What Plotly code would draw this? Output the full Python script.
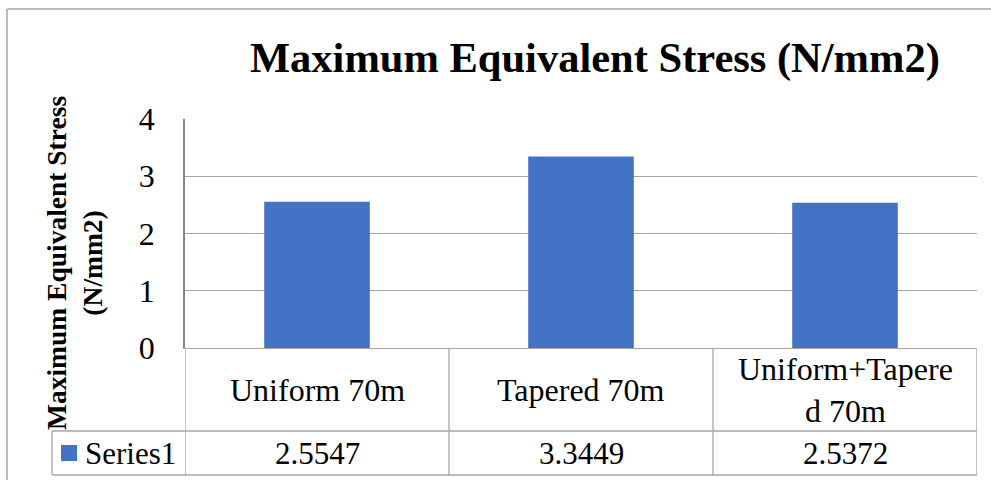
import plotly.graph_objects as go

# ---- data ----
categories = ["Uniform 70m", "Tapered 70m", "Uniform+Tapered 70m"]
table_labels = ["Uniform 70m", "Tapered 70m", "Uniform+Tapere<br>d 70m"]
values = [2.5547, 3.3449, 2.5372]
value_labels = ["2.5547", "3.3449", "2.5372"]
series_name = "Series1"
y_ticks = [0, 1, 2, 3, 4]
title_text = "Maximum Equivalent Stress (N/mm2)"
y_title = "Maximum Equivalent Stress<br>(N/mm2)"

W, H = 991, 480
BAR = "#4472C4"
GRID = "#A6A6A6"
FONT = "Liberation Serif"

def px(x):
    return x / W

def py(y):
    return 1 - y / H

x0, x1 = 185, 977
y_top, y_axis, y_row, y_bot = 119, 348, 431, 475

fig = go.Figure()
fig.add_trace(go.Bar(x=list(range(len(categories))), y=values, marker_color=BAR,
                     marker_line_width=0, name=series_name, showlegend=False,
                     hovertext=categories))

shapes = []
n = len(categories)
for i in range(n + 1):
    shapes.append(dict(type="line", xref="x", yref="paper", x0=i - 0.5, x1=i - 0.5,
                       y0=py(y_bot), y1=py(y_axis), line=dict(color=GRID, width=1.3)))
for yy in (y_row, y_bot):
    shapes.append(dict(type="line", xref="paper", yref="paper", x0=px(52), x1=px(x1),
                       y0=py(yy), y1=py(yy), line=dict(color=GRID, width=1.3)))
shapes.append(dict(type="line", xref="paper", yref="paper", x0=px(52), x1=px(52),
                   y0=py(y_bot), y1=py(y_row), line=dict(color=GRID, width=1.3)))
shapes.append(dict(type="rect", xref="paper", yref="paper", x0=px(61), x1=px(77),
                   y0=py(461), y1=py(445), fillcolor=BAR, line=dict(width=0)))
shapes.append(dict(type="line", xref="paper", yref="paper", x0=px(7), x1=px(7),
                   y0=0, y1=py(9), line=dict(color=GRID, width=1.5)))
shapes.append(dict(type="line", xref="paper", yref="paper", x0=px(7), x1=1,
                   y0=py(9), y1=py(9), line=dict(color=GRID, width=1.5)))

annotations = []
for i, lab in enumerate(table_labels):
    annotations.append(dict(x=i, y=py((y_axis + y_row) / 2), xref="x", yref="paper",
                            text=lab, showarrow=False, xanchor="center", yanchor="middle",
                            font=dict(family=FONT, size=32, color="black")))
for i, lab in enumerate(value_labels):
    annotations.append(dict(x=i, y=py((y_row + y_bot) / 2), xref="x", yref="paper",
                            text=lab, showarrow=False, xanchor="center", yanchor="middle",
                            font=dict(family=FONT, size=31, color="black")))
annotations.append(dict(x=px(83), y=py((y_row + y_bot) / 2), xref="paper", yref="paper",
                        text=series_name, showarrow=False, xanchor="left", yanchor="middle",
                        font=dict(family=FONT, size=31, color="black")))
annotations.append(dict(x=px(74), y=py(263), xref="paper", yref="paper",
                        text="<b>" + y_title + "</b>", showarrow=False, textangle=-90,
                        xanchor="center", yanchor="middle",
                        font=dict(family=FONT, size=27.5, color="black")))
annotations.append(dict(x=px(595), y=py(58), xref="paper", yref="paper",
                        text="<b>" + title_text + "</b>", showarrow=False,
                        xanchor="center", yanchor="middle",
                        font=dict(family=FONT, size=42.5, color="black")))

fig.update_layout(
    template="none",
    width=W, height=H,
    margin=dict(l=0, r=0, t=0, b=0, autoexpand=False),
    paper_bgcolor="white", plot_bgcolor="white",
    bargap=0.6,
    xaxis=dict(domain=[px(x0), px(x1)], range=[-0.5, n - 0.5], showticklabels=False,
               showgrid=False, zeroline=False, showline=True, linecolor=GRID, linewidth=1.3,
               ticks="", automargin=False),
    yaxis=dict(domain=[py(y_axis), py(y_top)], range=[0, 4], tickvals=y_ticks,
               showgrid=True, gridcolor=GRID, gridwidth=1.3, zeroline=False,
               showline=True, linecolor="#868686", linewidth=1.5, ticks="",
               ticklabelstandoff=22, automargin=False,
               tickfont=dict(family=FONT, size=32, color="black")),
    shapes=shapes,
    annotations=annotations,
    font=dict(family=FONT),
)

fig.write_html("out.html", config={"displayModeBar": False},
               post_script="document.body.style.margin='0';")
